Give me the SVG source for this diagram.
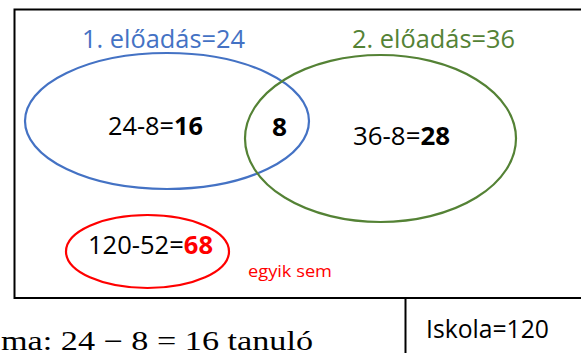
<svg xmlns="http://www.w3.org/2000/svg" width="581" height="353" viewBox="0 0 581 353">
<style>
.t{font-family:"Open Sans","Liberation Sans",sans-serif;font-size:25px;fill:#000}
.b{font-weight:bold}
.ell{fill:none;stroke-width:2.2}
.frame{fill:none;stroke:#000;stroke-width:2}
</style>
<rect x="0" y="0" width="581" height="353" fill="#fff"/>
<g id="universe">
<path class="frame" d="M583 9.5H14.5V298H583"/>
</g>
<g id="set1">
<ellipse class="ell" cx="167" cy="121" rx="142" ry="68" stroke="#4472C4"/>
<text class="t" x="82" y="48" textLength="163" lengthAdjust="spacingAndGlyphs" style="fill:#4472C4;font-size:26px">1. előadás=24</text>
<text class="t" x="108" y="135" textLength="95" lengthAdjust="spacingAndGlyphs">24-8=<tspan class="b">16</tspan></text>
</g>
<g id="set2">
<ellipse class="ell" cx="380.5" cy="138.5" rx="135.5" ry="83.5" stroke="#548235"/>
<text class="t" x="352" y="48" textLength="163" lengthAdjust="spacingAndGlyphs" style="fill:#548235;font-size:26px">2. előadás=36</text>
<text class="t" x="353" y="145" textLength="97" lengthAdjust="spacingAndGlyphs">36-8=<tspan class="b">28</tspan></text>
</g>
<g id="intersection">
<text class="t b" x="272" y="136" textLength="15" lengthAdjust="spacingAndGlyphs">8</text>
</g>
<g id="neither">
<ellipse class="ell" cx="147.5" cy="251.5" rx="81.5" ry="36.5" stroke="#FF0000"/>
<text class="t" x="88" y="254" textLength="125" lengthAdjust="spacingAndGlyphs">120-52=<tspan class="b" style="fill:#FF0000">68</tspan></text>
<text class="t" x="248" y="277" textLength="84" lengthAdjust="spacingAndGlyphs" style="font-size:16px;fill:#FF0000">egyik sem</text>
</g>
<g id="school">
<path class="frame" d="M405.5 298V356"/>
<text class="t" x="426" y="338" textLength="123" lengthAdjust="spacingAndGlyphs" style="font-size:26px">Iskola=120</text>
</g>
<g id="caption">
<text x="1" y="350" textLength="312" lengthAdjust="spacingAndGlyphs" style="font-family:'Liberation Serif','DejaVu Serif',serif;font-size:27px;fill:#000">ma: 24 − 8 = 16 tanuló</text>
</g>
</svg>
